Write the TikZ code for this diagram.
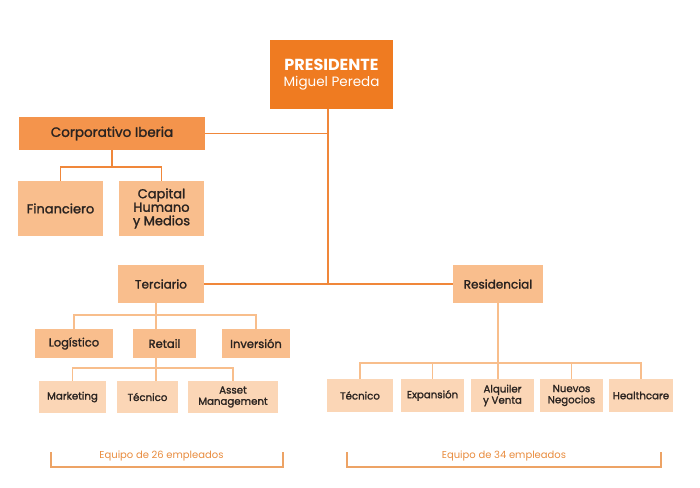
\documentclass[tikz,border=0pt]{standalone}
\usepackage{fontspec}
\setmainfont{Poppins}
\newfontfamily\semibold[FakeBold=1.6]{Poppins}
\definecolor{presorange}{HTML}{EF7B21}
\definecolor{corporange}{HTML}{F4944C}
\definecolor{midorange}{HTML}{F9BE8D}
\definecolor{paleorange}{HTML}{FBD6B6}
\definecolor{mainline}{HTML}{F0873A}
\definecolor{subline}{HTML}{F8BE8C}
\definecolor{txtdark}{HTML}{2A2320}
\definecolor{teamtext}{HTML}{E98C3E}
\tikzset{
  box/.style={inner sep=0pt, align=center, text=txtdark},
  presbox/.style={box, fill=presorange, text=white, minimum width=123pt, minimum height=69pt, font=\fontsize{13.5}{15.5}\selectfont},
  corpbox/.style={box, fill=corporange, minimum width=186pt, minimum height=33pt, font=\semibold\fontsize{13.5}{15}\selectfont},
  areabox/.style={box, fill=midorange, minimum width=85pt, minimum height=55pt, font=\semibold\fontsize{13}{13.5}\selectfont},
  unitbox/.style={box, fill=midorange, minimum height=38pt, font=\semibold\fontsize{12}{13}\selectfont},
  deptbox/.style={box, fill=midorange, minimum height=29pt, font=\semibold\fontsize{11.5}{13}\selectfont},
  teambox/.style={box, fill=paleorange, minimum height=32pt, font=\semibold\fontsize{10.2}{11.2}\selectfont},
  mainlink/.style={draw=mainline, line width=1.8pt},
  sublink/.style={draw=subline, line width=1.8pt},
  teamlabel/.style={text=teamtext, inner sep=0pt, font=\fontsize{10}{11}\selectfont}
}
\begin{document}
\begin{tikzpicture}[x=1pt,y=-1pt]
\useasboundingbox[fill=white] (0,0) rectangle (700,487);

% direccion
\node[presbox] (pres) at (331.5,74.5) {{\bfseries\fontsize{16}{17}\selectfont PRESIDENTE}\\Miguel Pereda};
\node[corpbox] (corp) at (112,133.5) {Corporativo Iberia};
\node[areabox] (fin) at (60.5,208.5) {Financiero};
\node[areabox] (cap) at (161.5,208.5) {Capital\\Humano\\y Medios};

% negocio
\node[unitbox, minimum width=86pt] (terc) at (161,284) {Terciario};
\node[unitbox, minimum width=90pt] (res) at (498,284) {Residencial};

\node[deptbox, minimum width=78pt] (log) at (74,343.5) {Logístico};
\node[deptbox, minimum width=63pt] (ret) at (164.5,343.5) {Retail};
\node[deptbox, minimum width=68pt] (inv) at (256,343.5) {Inversión};

\node[teambox, minimum width=67pt] (mark) at (72.5,397) {Marketing};
\node[teambox, minimum width=61pt] (tec1) at (147.5,397) {Técnico};
\node[teambox, minimum width=90pt] (asset) at (233,397) {Asset\\Management};

\node[teambox, minimum width=66pt, minimum height=33pt] (tec2) at (360,395.5) {Técnico};
\node[teambox, minimum width=63pt, minimum height=33pt] (exp) at (432.5,395.5) {Expansión};
\node[teambox, minimum width=63pt, minimum height=33pt] (alq) at (502.5,395.5) {Alquiler\\y Venta};
\node[teambox, minimum width=63pt, minimum height=33pt] (nue) at (571.5,395.5) {Nuevos\\Negocios};
\node[teambox, minimum width=64pt, minimum height=33pt] (hea) at (641,395.5) {Healthcare};

% uniones
\coordinate (trunk) at (328,284);
\coordinate (cjoin) at (112,167);
\coordinate (tjoin) at (156,315);
\coordinate (rjoin) at (156,368);
\coordinate (sjoin) at (498,363);

\draw[mainlink] (pres.south -| trunk) -- (trunk);
\draw[mainlink] (corp.east) -- (corp.east -| trunk);
\draw[mainlink] (terc.east) -- (res.west);
\draw[mainlink] (corp.south) -- (cjoin);
\draw[mainlink] (fin.north) |- (cjoin) -| (cap.north);

\draw[sublink] (terc.south -| tjoin) -- (ret.north -| tjoin);
\draw[sublink] (log.north) |- (tjoin) -| (inv.north);
\draw[sublink] (ret.south -| rjoin) -- (tec1.north -| rjoin);
\draw[sublink] (mark.north) |- (rjoin) -| (asset.north);

\draw[sublink] (res.south) -- (res.south |- alq.north);
\draw[sublink] (tec2.north) |- (sjoin) -| (hea.north);
\draw[sublink] (exp.north) -- (exp.north |- sjoin);
\draw[sublink] (nue.north) -- (nue.north |- sjoin);

% equipos
\node[teamlabel] (team1) at (161.5,456) {Equipo de 26 empleados};
\node[teamlabel] (team2) at (504,456) {Equipo de 34 empleados};
\draw[sublink, draw=teamtext!80, line width=1.2pt] (51,452) |- (283,467) -- (283,452);
\draw[sublink, draw=teamtext!80, line width=1.2pt] (347,452) |- (661,467) -- (661,452);
\end{tikzpicture}
\end{document}
